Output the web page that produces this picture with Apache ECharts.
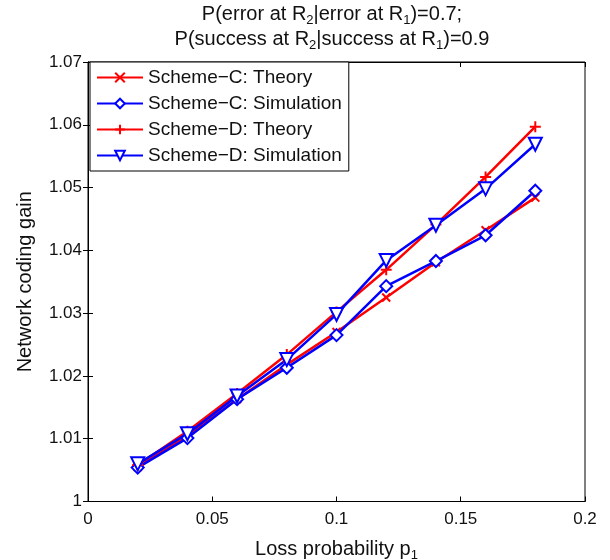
<!DOCTYPE html>
<html><head><meta charset="utf-8">
<script src="https://cdn.jsdelivr.net/npm/echarts@6/dist/echarts.min.js"></script>
<style>html,body{margin:0;padding:0;background:#fff}#c{width:610px;height:560px}</style>
</head><body><div id="c"></div>
<script>
var xValues = [0.02, 0.04, 0.06, 0.08, 0.10, 0.12, 0.14, 0.16, 0.18];
var schemeCTheory = [1.0055, 1.0105, 1.0163, 1.0218, 1.0270, 1.0325, 1.0381, 1.0432, 1.0484];
var schemeCSim    = [1.0054, 1.0101, 1.0163, 1.0213, 1.0265, 1.0343, 1.0383, 1.0424, 1.0495];
var schemeDTheory = [1.0058, 1.0112, 1.0172, 1.0234, 1.0302, 1.0369, 1.0441, 1.0517, 1.0597];
var schemeDSim    = [1.0060, 1.0108, 1.0168, 1.0226, 1.0298, 1.0384, 1.0440, 1.0498, 1.0569];
var seriesNames = ['Scheme\u2212C: Theory', 'Scheme\u2212C: Simulation', 'Scheme\u2212D: Theory', 'Scheme\u2212D: Simulation'];
var xTicks = [0, 0.05, 0.1, 0.15, 0.2];
var yTicks = [1, 1.01, 1.02, 1.03, 1.04, 1.05, 1.06, 1.07];

function pairs(ys){ return xValues.map(function(x,i){ return [x, ys[i]]; }); }
var FONT = 'Liberation Sans, Arial, sans-serif';
var RED = '#ff0000', BLUE = '#0000ff';
var chart = echarts.init(document.getElementById('c'));
var subStyle = { fontSize: 13, fontFamily: FONT, color: '#111', padding: [12, 0, 0, 0] };
function mkSeries(name, ys, color, symbol, size, rotate) {
  return {
    name: name, type: 'line', data: pairs(ys), xAxisIndex: 0, yAxisIndex: 0,
    symbol: symbol, symbolSize: size, symbolRotate: rotate || 0, showAllSymbol: true,
    lineStyle: { color: color, width: 2.5 },
    itemStyle: { color: color, borderColor: color, borderWidth: 2 },
    emphasis: { disabled: true }, animation: false
  };
}
var xPath = 'path://M0,0L10,10M10,0L0,10';
var plusPath = 'path://M5,0L5,10M0,5L10,5';
chart.setOption({
  animation: false,
  title: {
    text: 'P(error at R{s|2}|error at R{s|1})=0.7;\nP(success at R{s|2}|success at R{s|1})=0.9',
    left: 332, top: 0, textAlign: 'center', padding: [2, 0, 0, 0],
    textStyle: { fontFamily: FONT, fontSize: 20, fontWeight: 'normal', color: '#111', lineHeight: 25,
      rich: { s: subStyle } }
  },
  grid: { left: 88, right: 25, top: 62, bottom: 58.5, show: true, borderColor: '#000', borderWidth: 1,
    containLabel: false, outerBoundsMode: 'none' },
  legend: {
    orient: 'vertical', left: 90, top: 62, data: seriesNames,
    backgroundColor: '#fff', borderColor: '#000', borderWidth: 1,
    padding: [6, 7, 6, 6], itemGap: 7, itemWidth: 46, itemHeight: 12,
    textStyle: { fontFamily: FONT, fontSize: 19, color: '#111' },
    selectedMode: false
  },
  xAxis: [{
    type: 'value', min: 0, max: 0.2, interval: 0.05,
    name: 'Loss probability p{s|1}', nameLocation: 'middle', nameGap: 35,
    nameTextStyle: { fontFamily: FONT, fontSize: 20, color: '#111', rich: { s: subStyle } },
    axisLine: { show: true, lineStyle: { color: '#000', width: 1 } },
    axisTick: { show: true, inside: true, length: 5, lineStyle: { color: '#000' } },
    axisLabel: { fontFamily: FONT, fontSize: 17, color: '#111', margin: 9,
      formatter: function(v){ return String(+v.toFixed(2)); } },
    splitLine: { show: false }
  }, {
    type: 'value', position: 'top', min: 0, max: 0.2, interval: 0.05,
    axisLine: { show: true, lineStyle: { color: '#000', width: 1 } },
    axisTick: { show: true, inside: true, length: 5, lineStyle: { color: '#000' } },
    axisLabel: { show: false }, splitLine: { show: false }
  }],
  yAxis: [{
    type: 'value', min: 1, max: 1.07, interval: 0.01,
    name: 'Network coding gain', nameLocation: 'middle', nameGap: 53,
    nameTextStyle: { fontFamily: FONT, fontSize: 20, color: '#111' },
    axisLine: { show: true, lineStyle: { color: '#000', width: 1 } },
    axisTick: { show: true, inside: true, length: 5, lineStyle: { color: '#000' } },
    axisLabel: { fontFamily: FONT, fontSize: 17, color: '#111', margin: 6,
      formatter: function(v){ return String(+v.toFixed(2)); } },
    splitLine: { show: false }
  }, {
    type: 'value', position: 'right', min: 1, max: 1.07, interval: 0.01,
    axisLine: { show: true, lineStyle: { color: '#000', width: 1 } },
    axisTick: { show: true, inside: true, length: 5, lineStyle: { color: '#000' } },
    axisLabel: { show: false }, splitLine: { show: false }
  }],
  series: [
    mkSeries(seriesNames[0], schemeCTheory, RED, xPath, 8),
    mkSeries(seriesNames[1], schemeCSim, BLUE, 'emptyDiamond', 12),
    mkSeries(seriesNames[2], schemeDTheory, RED, plusPath, 11),
    mkSeries(seriesNames[3], schemeDSim, BLUE, 'emptyTriangle', 13, 180)
  ]
});
</script></body></html>
